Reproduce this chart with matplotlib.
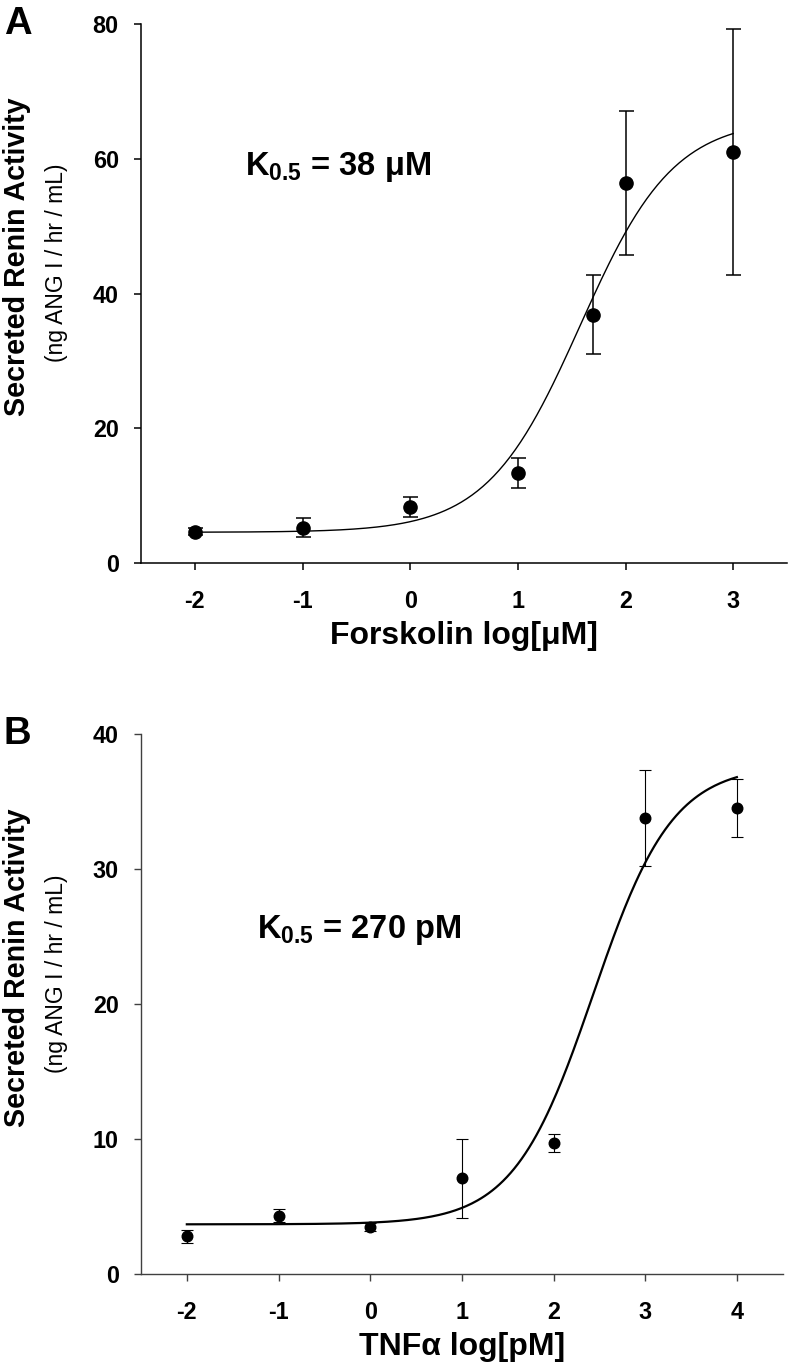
import numpy as np
import matplotlib
matplotlib.use('Agg')
import matplotlib.pyplot as plt

plt.rcParams['font.family'] = ['Liberation Sans', 'DejaVu Sans']
plt.rcParams['mathtext.fontset'] = 'custom'
plt.rcParams['mathtext.rm'] = 'Liberation Sans:bold'
plt.rcParams['mathtext.bf'] = 'Liberation Sans:bold'
plt.rcParams['axes.unicode_minus'] = False

# panel A: forskolin, log[uM]
fsk_x = [-2, -1, 0, 1, 1.7, 2, 3]
fsk_y = [4.7, 5.3, 8.3, 13.4, 36.9, 56.4, 61.0]
fsk_err = [0.5, 1.4, 1.5, 2.2, 5.9, 10.7, 18.2]
# fitted curve: bottom, top, log K0.5, hill slope
fsk_fit = (4.6, 66.0, np.log10(38), 1.0)

# panel B: TNFa, log[pM]
tnf_x = [-2, -1, 0, 1, 2, 3, 4]
tnf_y = [2.8, 4.35, 3.5, 7.1, 9.75, 33.8, 34.5]
tnf_err = [0.48, 0.5, 0.27, 2.9, 0.67, 3.55, 2.15]
tnf_fit = (3.7, 37.7, np.log10(270), 1.0)


def hill(x, p):
    lo, hi, logk, n = p
    return lo + (hi - lo) / (1 + 10 ** (n * (logk - x)))


fig = plt.figure(figsize=(7.88, 13.68), dpi=100)
axA = fig.add_axes([141/788, 1 - 563.3/1368, (787-141)/788, (563.3-24)/1368])
axB = fig.add_axes([141/788, 1 - 1274.3/1368, (782.7-141)/788, (1274.3-734)/1368])


def style(ax, col, lw):
    for s in ['top', 'right']:
        ax.spines[s].set_visible(False)
    for s in ['left', 'bottom']:
        ax.spines[s].set_color(col)
        ax.spines[s].set_linewidth(lw)
    ax.tick_params(direction='out', length=5, width=lw, color=col, labelsize=16.8)
    ax.tick_params(axis='x', pad=14)
    ax.tick_params(axis='y', pad=11)
    plt.setp(ax.get_xticklabels() + ax.get_yticklabels(), fontweight='bold')


# ---- A ----
xs = np.linspace(-2, 3, 300)
axA.plot(xs, hill(xs, fsk_fit), color='black', lw=1.0)
axA.errorbar(fsk_x, fsk_y, yerr=fsk_err, fmt='o', color='black', ms=9.5,
             capsize=5.4, elinewidth=1.1, capthick=1.1)
axA.set_xlim(-2.5, 3.5)
axA.set_ylim(0, 80)
axA.set_xticks([-2, -1, 0, 1, 2, 3])
axA.set_yticks([0, 20, 40, 60, 80])
style(axA, 'black', 1.1)
axA.set_xlabel('Forskolin log[μM]', fontsize=23, fontweight='bold', labelpad=6)
axA.text(-1.535, 57.6, r'K$_{0.5}$ = 38 μM', fontsize=23.5, fontweight='bold',
         ha='left', va='baseline')

# ---- B ----
xs = np.linspace(-2, 4, 300)
axB.plot(xs, hill(xs, tnf_fit), color='black', lw=1.6)
axB.errorbar(tnf_x, tnf_y, yerr=tnf_err, fmt='o', color='black', ms=7.6,
             capsize=4.4, elinewidth=0.8, capthick=0.8)
axB.set_xlim(-2.5, 4.5)
axB.set_ylim(0, 40)
axB.set_xticks([-2, -1, 0, 1, 2, 3, 4])
axB.set_yticks([0, 10, 20, 30, 40])
style(axB, '#404040', 1.0)
axB.set_xlabel('TNFα log[pM]', fontsize=23, fontweight='bold', labelpad=6)
axB.text(-1.24, 24.9, r'K$_{0.5}$ = 270 pM', fontsize=23.5, fontweight='bold',
         ha='left', va='baseline')

# y labels and panel letters
for top, bot, letter in [(24, 563.3, 'A'), (734, 1274.3, 'B')]:
    cy = (top + bot) / 2 - 36.7
    fig.text(17/788, 1 - cy/1368, 'Secreted Renin Activity', rotation=90,
             fontsize=20.6, fontweight='bold', ha='center', va='center')
    fig.text(56/788, 1 - (cy + 6)/1368, '(ng ANG I / hr / mL)', rotation=90,
             fontsize=16.5, ha='center', va='center')
    fig.text(4/788, 1 - (top - 24 + 34)/1368, letter, fontsize=27.5,
             fontweight='bold', ha='left', va='baseline')

fig.savefig('out.png', dpi=100)
